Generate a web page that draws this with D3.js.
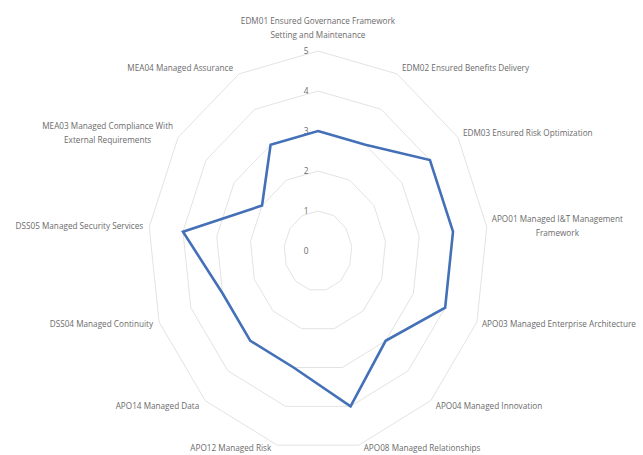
<!DOCTYPE html>
<html><head><meta charset="utf-8">
<script src="https://cdn.jsdelivr.net/npm/d3@7"></script>
<style>html,body{margin:0;padding:0;background:#fff;overflow:hidden}</style>
</head><body>
<svg id="chart" width="643" height="455"></svg>
<script>
const categories = [
  "EDM01 Ensured Governance Framework\nSetting and Maintenance",
  "EDM02 Ensured Benefits Delivery",
  "EDM03 Ensured Risk Optimization",
  "APO01 Managed I&T Management\nFramework",
  "APO03 Managed Enterprise Architecture",
  "APO04 Managed Innovation",
  "APO08 Managed Relationships",
  "APO12 Managed Risk",
  "APO14 Managed Data",
  "DSS04 Managed Continuity",
  "DSS05 Managed Security Services",
  "MEA03 Managed Compliance With\nExternal Requirements",
  "MEA04 Managed Assurance"
];
const values = [3, 3, 4, 4, 4, 3, 4, 3, 3, 3, 4, 2, 3];
const tickValues = [0, 1, 2, 3, 4, 5];

const svg = d3.select("#chart");
const cx = 318, cy = 251, xFactor = 0.85;
const r = d3.scaleLinear().domain([0, 5]).range([0, 200]);
const angle = d3.scaleLinear().domain([0, categories.length]).range([0, 2 * Math.PI]);
const font = "'Open Sans', 'Liberation Sans', sans-serif";
const textColor = "#6b6b6b";

function pt(i, v) {
  const a = angle(i);
  return [cx + r(v) * Math.sin(a) * xFactor, cy - r(v) * Math.cos(a)];
}

function draw() {
  // grid rings
  const ring = d3.line().curve(d3.curveLinearClosed);
  svg.append("g").selectAll("path").data(tickValues.filter(t => t > 0)).join("path")
    .attr("d", t => ring(categories.map((c, i) => pt(i, t))))
    .attr("fill", "none").attr("stroke", "#e3e3e3").attr("stroke-width", 1);

  // tick labels
  svg.append("g").selectAll("text").data(tickValues).join("text")
    .attr("x", cx - 12).attr("y", t => cy - r(t))
    .attr("dy", "0.35em").attr("text-anchor", "middle")
    .attr("font-family", font).attr("font-size", 8.3).attr("fill", textColor)
    .text(t => t);

  // data line
  svg.append("path")
    .attr("d", ring(values.map((v, i) => pt(i, v))))
    .attr("fill", "none").attr("stroke", "#4470b8").attr("stroke-width", 2.6)
    .attr("stroke-linejoin", "miter");

  // category labels
  const lblG = svg.append("g");
  categories.forEach((c, i) => {
    const a = angle(i);
    const s = Math.sin(a), co = Math.cos(a);
    const [vx, vy] = pt(i, 5);
    const lines = c.split("\n");
    const lh = 14;
    const t = lblG.append("text").attr("font-family", font).attr("font-size", 8.2).attr("fill", textColor);
    const spans = lines.map(l => t.append("tspan").text(l));
    if (Math.abs(s) < 0.01) {
      const lastY = vy - 16;
      spans.forEach((sp, k) => sp.attr("x", vx).attr("y", lastY - (lines.length - 1 - k) * lh)
        .attr("text-anchor", "middle").attr("dy", "0.35em"));
    } else {
      let yc = vy - 7 * co;
      if (yc > 448) yc = 448;
      if (lines.length === 1) {
        spans[0].attr("x", s > 0 ? vx + 5 : vx - 6).attr("y", yc).attr("dy", "0.35em")
          .attr("text-anchor", s > 0 ? "start" : "end");
      } else {
        const widths = spans.map(sp => sp.node().getComputedTextLength());
        const W = Math.max(...widths);
        const left = s > 0 ? vx + 5 : vx - 5 - W;
        spans.forEach((sp, k) => {
          sp.attr("x", left + W / 2).attr("text-anchor", "middle")
            .attr("y", yc + (k - (lines.length - 1) / 2) * lh).attr("dy", "0.35em");
        });
      }
    }
  });
}

if (document.fonts && document.fonts.ready) {
  document.fonts.load("8px 'Open Sans'").then(draw, draw);
} else {
  draw();
}
</script>
</body></html>
